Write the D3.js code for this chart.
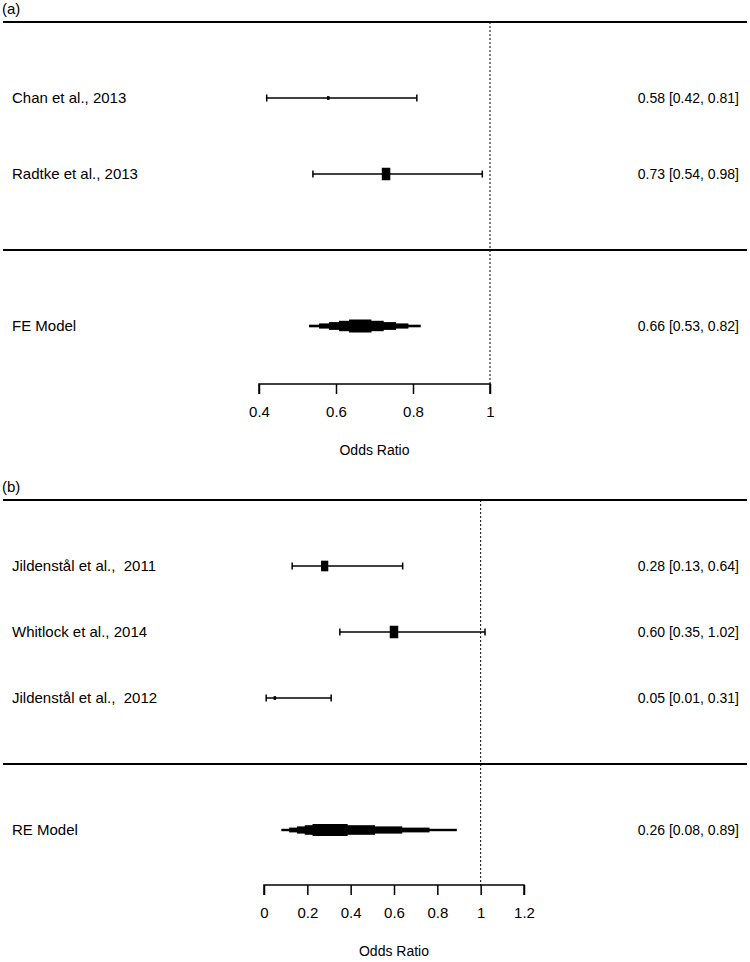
<!DOCTYPE html>
<html>
<head>
<meta charset="utf-8">
<script src="https://cdn.jsdelivr.net/npm/d3@7"></script>
<style>
  body { margin: 0; background: #fff; }
  svg text { font-family: "Liberation Sans", Arial, sans-serif; fill: #000; white-space: pre; }
</style>
</head>
<body>
<svg id="chart" width="750" height="962"></svg>
<script>
'use strict'

// panel (a)
var studiesA = ['Chan et al., 2013', 'Radtke et al., 2013']
var orA = [0.58, 0.73]
var lowA = [0.42, 0.54]
var highA = [0.81, 0.98]
var weightA = [0.3, 1]
var summaryA = { label: 'FE Model', or: 0.66, low: 0.53, high: 0.82 }
var ticksA = [0.4, 0.6, 0.8, 1]

// panel (b)
var studiesB = ['Jildenstål et al.,  2011', 'Whitlock et al., 2014', 'Jildenstål et al.,  2012']
var orB = [0.28, 0.60, 0.05]
var lowB = [0.13, 0.35, 0.01]
var highB = [0.64, 1.02, 0.31]
var weightB = [0.85, 1, 0.3]
var summaryB = { label: 'RE Model', or: 0.26, low: 0.08, high: 0.89 }
var ticksB = [0, 0.2, 0.4, 0.6, 0.8, 1, 1.2]

var svg = d3.select('#chart')
var fmt = d3.format('.2f')

var config = {
  lineLeft: 3,
  lineRight: 747,
  labelX: 12,
  textRight: 739,
  fontSize: 14,
  labelSize: 15,
  tickSize: 15
}

var drawPanel = function(p) {
  var x = d3.scaleLinear().domain(p.domain).range(p.range)
  var k = p.studies.length
  // metafor-style rows: k..1 for studies, 0 separator, -1 summary
  var y = d3.scaleLinear().domain([k + 1, 0]).range([p.top, p.top + (k + 1) * p.rowH])
  var g = svg.append('g')

  g.append('text')
    .attr('x', 2).attr('y', p.top - 8)
    .style('font-size', '15px')
    .text(p.tag)

  // reference line at OR = 1
  g.append('line')
    .attr('x1', x(1)).attr('x2', x(1))
    .attr('y1', y(k + 1)).attr('y2', p.axisY)
    .attr('stroke', '#000').attr('stroke-width', 1)
    .attr('stroke-dasharray', '2,2')

  // top line and separator
  g.selectAll('.hline')
    .data([k + 1, 0])
    .enter().append('line')
    .attr('x1', config.lineLeft).attr('x2', config.lineRight)
    .attr('y1', function(d) { return y(d) }).attr('y2', function(d) { return y(d) })
    .attr('stroke', '#000').attr('stroke-width', 2)

  var rows = p.studies.map(function(s, i) {
    return { label: s, or: p.or[i], low: p.low[i], high: p.high[i], w: p.weight[i], row: k - i }
  })

  var row = g.selectAll('.study')
    .data(rows)
    .enter().append('g')
    .attr('class', 'study')

  row.append('line')
    .attr('x1', function(d) { return x(d.low) })
    .attr('x2', function(d) { return x(d.high) })
    .attr('y1', function(d) { return y(d.row) })
    .attr('y2', function(d) { return y(d.row) })
    .attr('stroke', '#000').attr('stroke-width', 1.5)

  ;['low', 'high'].forEach(function(end) {
    row.append('line')
      .attr('x1', function(d) { return x(d[end]) })
      .attr('x2', function(d) { return x(d[end]) })
      .attr('y1', function(d) { return y(d.row) - 3.5 })
      .attr('y2', function(d) { return y(d.row) + 3.5 })
      .attr('stroke', '#000').attr('stroke-width', 1.5)
  })

  var bw = d3.scaleLinear().domain([0, 1]).range([0, 8.5])
  var bh = d3.scaleLinear().domain([0, 1]).range([0, 12.5])

  row.append('rect')
    .attr('x', function(d) { return x(d.or) - bw(d.w) / 2 })
    .attr('y', function(d) { return y(d.row) - bh(d.w) / 2 })
    .attr('width', function(d) { return bw(d.w) })
    .attr('height', function(d) { return bh(d.w) })
    .attr('fill', '#000')

  row.append('text')
    .attr('x', config.labelX)
    .attr('y', function(d) { return y(d.row) })
    .attr('dy', '0.35em')
    .style('font-size', config.labelSize + 'px')
    .text(function(d) { return d.label })

  row.append('text')
    .attr('x', config.textRight)
    .attr('y', function(d) { return y(d.row) })
    .attr('dy', '0.35em')
    .attr('text-anchor', 'end')
    .style('font-size', config.fontSize + 'px')
    .text(function(d) { return fmt(d.or) + ' [' + fmt(d.low) + ', ' + fmt(d.high) + ']' })

  // summary polygon, drawn as stacked steps
  var s = p.summary
  var steps = d3.range(5).map(function(i) {
    var t = i / 5
    return {
      x0: s.low + (s.or - s.low) * t,
      x1: s.high - (s.high - s.or) * t,
      h: (i + 1) / 5
    }
  })
  g.selectAll('.step')
    .data(steps)
    .enter().append('rect')
    .attr('x', function(d) { return x(d.x0) })
    .attr('width', function(d) { return x(d.x1) - x(d.x0) })
    .attr('y', function(d) { return y(-1) - Math.max(1, d.h * p.diamondH) })
    .attr('height', function(d) { return 2 * Math.max(1, d.h * p.diamondH) })
    .attr('fill', '#000')

  g.append('text')
    .attr('x', config.labelX).attr('y', y(-1)).attr('dy', '0.35em')
    .style('font-size', config.labelSize + 'px')
    .text(s.label)

  g.append('text')
    .attr('x', config.textRight).attr('y', y(-1)).attr('dy', '0.35em')
    .attr('text-anchor', 'end')
    .style('font-size', config.fontSize + 'px')
    .text(fmt(s.or) + ' [' + fmt(s.low) + ', ' + fmt(s.high) + ']')

  // x axis
  var axis = g.append('g')
    .attr('transform', 'translate(0,' + p.axisY + ')')
    .call(d3.axisBottom(x).tickValues(p.ticks).tickSize(10).tickPadding(12)
      .tickFormat(function(d) { return String(d) }))
  axis.select('.domain').attr('stroke-width', 1.5)
    .attr('d', 'M' + x(p.ticks[0]) + ',10V0H' + x(p.ticks[p.ticks.length - 1]) + 'V10')
  axis.selectAll('.tick line').attr('stroke-width', 1.5)
  axis.selectAll('.tick text')
    .style('font-size', config.tickSize + 'px')
    .style('font-family', '"Liberation Sans", Arial, sans-serif')

  g.append('text')
    .attr('x', (p.range[0] + p.range[1]) / 2)
    .attr('y', p.axisY + 71)
    .attr('text-anchor', 'middle')
    .style('font-size', config.fontSize + 'px')
    .text('Odds Ratio')
}

drawPanel({
  tag: '(a)', studies: studiesA, or: orA, low: lowA, high: highA, weight: weightA,
  summary: summaryA, ticks: ticksA,
  domain: [0.4, 1], range: [259, 490],
  top: 22, rowH: 76, axisY: 384, diamondH: 6.5
})

drawPanel({
  tag: '(b)', studies: studiesB, or: orB, low: lowB, high: highB, weight: weightB,
  summary: summaryB, ticks: ticksB,
  domain: [0, 1.2], range: [264, 524],
  top: 500, rowH: 66, axisY: 885, diamondH: 6
})
</script>
</body>
</html>
